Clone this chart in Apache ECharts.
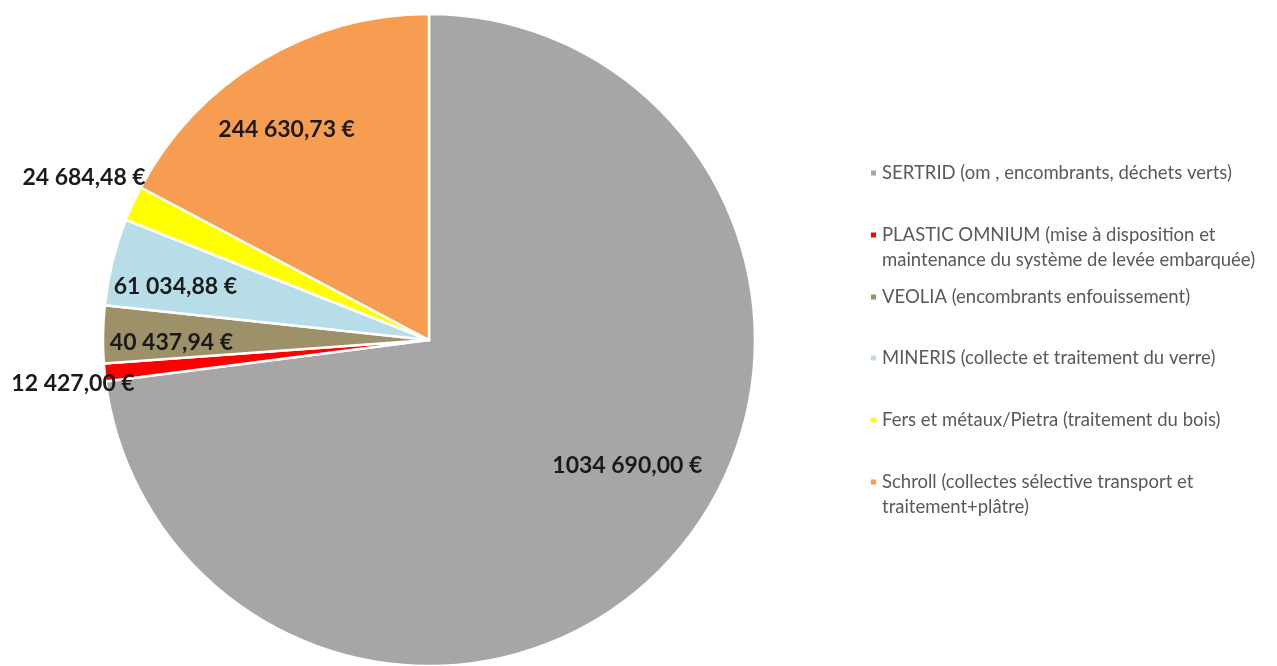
<!DOCTYPE html>
<html>
<head>
<meta charset="utf-8">
<script src="https://cdn.jsdelivr.net/npm/echarts@6/dist/echarts.min.js"></script>
<style>
html,body{margin:0;padding:0;background:#fff;}
#c{width:1277px;height:666px;}
</style>
</head>
<body>
<div id="c"></div>
<script>
// ---- data ----
var categories = [
  'SERTRID (om , encombrants, déchets verts)',
  'PLASTIC OMNIUM (mise à disposition et maintenance du système de levée embarquée)',
  'VEOLIA (encombrants enfouissement)',
  'MINERIS (collecte et traitement du verre)',
  'Fers et métaux/Pietra (traitement du bois)',
  'Schroll (collectes sélective transport et traitement+plâtre)'
];
var legendLines = [
  ['SERTRID (om , encombrants, déchets verts)'],
  ['PLASTIC OMNIUM (mise à disposition et', 'maintenance du système de levée embarquée)'],
  ['VEOLIA (encombrants enfouissement)'],
  ['MINERIS (collecte et traitement du verre)'],
  ['Fers et métaux/Pietra (traitement du bois)'],
  ['Schroll (collectes sélective transport et', 'traitement+plâtre)']
];
var values = [1034690.00, 12427.00, 40437.94, 61034.88, 24684.48, 244630.73];
var colors = ['#a6a6a6', '#ff0000', '#9c9168', '#b7dee8', '#ffff00', '#f79d52'];

// ---- layout / style ----
var CX = 429, CY = 340, R = 326;
var labelRadius = [0.72, 1.10, 0.79, 0.795, 1.17, 0.78];
var labelAngleShift = [-9, -1.2, -1.6, -2, 0.5, -3];
var LH = 25;
var legendFirstLine = [173, 235, 297, 358, 420, 482];

function fmt(v) {
  var s = v.toFixed(2).split('.');
  var ip = parseInt(s[0], 10);
  var txt;
  if (ip >= 1000) {
    var rest = String(ip % 1000);
    while (rest.length < 3) rest = '0' + rest;
    txt = Math.floor(ip / 1000) + ' ' + rest;
  } else txt = String(ip);
  return txt + ',' + s[1] + ' €';
}

var total = values.reduce(function (a, b) { return a + b; }, 0);
var midAngles = [];
(function () {
  var acc = 0;
  for (var i = 0; i < values.length; i++) {
    var a = values[i] / total * 360;
    midAngles.push(acc + a / 2);
    acc += a;
  }
})();

var data = categories.map(function (n, i) {
  return { name: n, value: values[i], itemStyle: { color: colors[i] } };
});

var legends = categories.map(function (n, i) {
  var lines = legendLines[i];
  var two = lines.length > 1;
  // for two-line entries, a leading blank line keeps the first line beside the marker
  var txt = two ? (' \n' + lines.join('\n')) : lines[0];
  var half = two ? LH * 1.5 : LH / 2;
  return {
    data: [n],
    orient: 'vertical',
    left: 869,
    top: legendFirstLine[i] - half,
    padding: 0,
    icon: 'rect',
    itemWidth: 7,
    itemHeight: 7,
    selectedMode: false,
    formatter: function () { return txt; },
    textStyle: {
      fontFamily: 'Lato',
      fontSize: 18.5,
      color: '#595959',
      lineHeight: LH
    }
  };
});

var chart = echarts.init(document.getElementById('c'));
chart.setOption({
  animation: false,
  backgroundColor: '#ffffff',
  legend: legends,
  series: [{
    type: 'pie',
    center: [CX, CY],
    radius: [0, R],
    startAngle: 90,
    clockwise: true,
    avoidLabelOverlap: false,
    data: data,
    itemStyle: { borderColor: '#ffffff', borderWidth: 2.5 },
    label: {
      show: true,
      position: 'inside',
      formatter: function (p) { return fmt(p.value); },
      fontFamily: 'Lato',
      fontWeight: 'bold',
      fontSize: 23,
      color: '#1a1a1a'
    },
    labelLine: { show: false },
    labelLayout: function (p) {
      var i = p.dataIndex;
      var ang = (midAngles[i] + labelAngleShift[i]) * Math.PI / 180;
      var r = R * labelRadius[i];
      return {
        x: CX + r * Math.sin(ang),
        y: CY - r * Math.cos(ang),
        align: 'center',
        verticalAlign: 'middle'
      };
    }
  }]
});
</script>
</body>
</html>
